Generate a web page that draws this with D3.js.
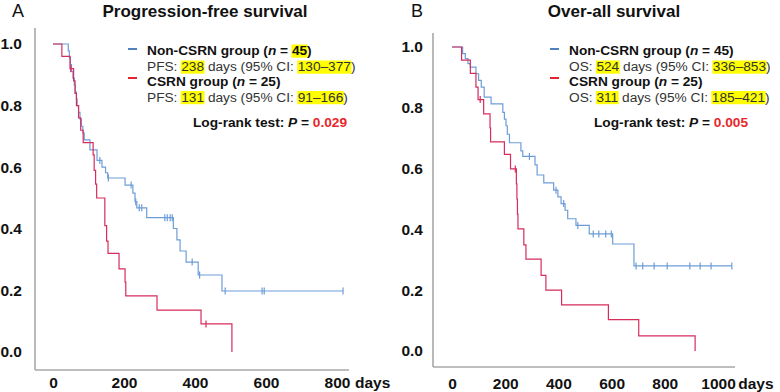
<!DOCTYPE html>
<html><head><meta charset="utf-8">
<script src="https://cdn.jsdelivr.net/npm/d3@7"></script>
<style>body{margin:0;background:#fff}svg{display:block}</style>
</head><body>
<svg id="c" width="780" height="392"></svg>
<script>
// ---------------- DATA ----------------
// Panel A: progression-free survival (days, Kaplan-Meier estimate after each event)
const pfsNonTimes = [43,46,49,52,56,60,63,66,68,72,76,80,84,88,104,124,138,148,154,203,225,231,236,264,339,349,358,375,409,476];
const pfsNonSurv  = [0.978,0.956,0.933,0.911,0.889,0.867,0.844,0.822,0.80,0.778,0.756,0.733,0.711,0.689,0.656,0.622,0.60,0.582,0.565,0.542,0.516,0.488,0.468,0.436,0.401,0.364,0.328,0.292,0.25,0.198];
const pfsNonCensor = [132,156,220,233,243,250,315,322,330,336,392,413,485,589,595,817];

const pfsCsrnTimes = [25,48,58,62,66,72,78,85,113,116,120,123,146,151,155,186,203,205,293,417,504];
const pfsCsrnSurv  = [0.96,0.92,0.88,0.84,0.80,0.76,0.72,0.68,0.64,0.59,0.545,0.50,0.41,0.36,0.32,0.27,0.227,0.182,0.136,0.091,0];
const pfsCsrnCensor = [50,431];

// Panel B: overall survival
const osNonTimes = [40,50,60,69,90,100,110,121,147,191,197,203,208,216,259,266,312,320,345,382,398,410,425,435,466,516,604,684];
const osNonSurv  = [0.978,0.962,0.945,0.934,0.912,0.89,0.868,0.835,0.813,0.785,0.763,0.741,0.713,0.685,0.658,0.64,0.612,0.579,0.553,0.529,0.507,0.485,0.463,0.435,0.413,0.385,0.352,0.28];
const osNonCensor = [291,391,420,473,531,552,578,599,692,717,760,809,894,933,974,1052];

const osCsrnTimes = [36,69,90,98,119,143,145,197,220,242,244,246,248,270,278,335,353,412,588,702,914];
const osCsrnSurv  = [0.957,0.913,0.868,0.827,0.78,0.734,0.688,0.647,0.599,0.55,0.50,0.45,0.402,0.349,0.302,0.249,0.20,0.152,0.103,0.05,0];
const osCsrnCensor = [106,238];

// Tick labels
const yTicks = [0,0.2,0.4,0.6,0.8,1.0];
const pfsXTicks = [0,200,400,600,800];
const osXTicks = [0,200,400,600,800,1000];

// Text
const panelLetters = ["A","B"];
const panelTitles = ["Progression-free survival","Over-all survival"];
const groupNames = ["Non-CSRN group","CSRN group"];
const groupN = ["45","25"];
const pfsMedians = [["238","130–377"],["131","91–166"]];
const osMedians  = [["524","336–853"],["311","185–421"]];
const pValues = ["0.029","0.005"];

// ---------------- DRAW ----------------
const FONT = "'Liberation Sans', Arial, Helvetica, sans-serif";
const svg = d3.select("#c");
const BLUE = "#6d9dd8", RED = "#d62d5d";
const BLUE_LEG = "#4f81bd", RED_LEG = "#e2262e";
const AXIS = "#a8a8a8";
const TICK_FS = 15.5;

function survAt(times, surv, t){
  const i = d3.bisectRight(times, t);
  return i === 0 ? 1 : surv[i-1];
}
function stepPts(times, surv, end){
  const pts = [[0,1]]; let s = 1;
  times.forEach((t,i)=>{ pts.push([t,s]); s = surv[i]; pts.push([t,s]); });
  if (end > times[times.length-1]) pts.push([end,s]);
  return pts;
}

function richLine(g, x, y, segs, size){
  let cx = x;
  segs.forEach(sg=>{
    const t = g.append("text").attr("x",cx).attr("y",y)
      .style("white-space","pre")
      .attr("font-family",FONT).attr("font-size",size)
      .attr("font-weight",sg.b?"bold":"normal")
      .attr("font-style",sg.i?"italic":"normal")
      .attr("fill",sg.c || (sg.b?"#111":"#333"))
      .text(sg.t);
    const w = t.node().getComputedTextLength();
    if (sg.h){
      g.insert("rect","text").attr("x",cx-0.5).attr("y",y-10.5).attr("width",w+1).attr("height",13.2).attr("fill","#ffff00");
    }
    cx += w;
  });
  return cx;
}

function drawPanel(p){
  const g = svg.append("g");
  const x = d3.scaleLinear().domain([0,1000]).range([p.x0, p.x0 + 1000*p.k]);
  const y = d3.scaleLinear().domain([0,1]).range([p.yBot, p.yTop]);

  // frame lines
  g.append("line").attr("x1",p.axisX).attr("x2",p.axisX).attr("y1",p.axisTop).attr("y2",p.axisY)
    .attr("stroke",AXIS).attr("stroke-width",1.6);
  g.append("line").attr("x1",p.axisX).attr("x2",p.axisRight).attr("y1",p.axisY).attr("y2",p.axisY)
    .attr("stroke",AXIS).attr("stroke-width",1.6);

  // y axis labels
  const ya = g.append("g").attr("transform",`translate(${p.axisX},0)`)
    .call(d3.axisLeft(y).tickValues(yTicks).tickFormat(d3.format(".1f")).tickSize(0).tickPadding(p.yPad));
  ya.select(".domain").remove();
  ya.selectAll("text").attr("font-family",FONT).attr("font-size",TICK_FS).attr("font-weight","bold").attr("fill","#111");

  // x axis labels
  const xa = g.append("g").attr("transform",`translate(0,${p.axisY})`)
    .call(d3.axisBottom(x).tickValues(p.xTicks).tickFormat(d3.format("d")).tickSize(0).tickPadding(p.xPad));
  xa.select(".domain").remove();
  xa.selectAll("text").attr("font-family",FONT).attr("font-size",TICK_FS).attr("font-weight","bold").attr("fill","#111");
  const lastT = p.xTicks[p.xTicks.length-1];
  const lastNode = xa.selectAll("text").nodes().pop();
  const lw = lastNode.getComputedTextLength();
  g.append("text").attr("x",x(lastT)+lw/2+p.daysGap).attr("y",p.axisY+p.xPad+11)
    .attr("font-family",FONT).attr("font-size",TICK_FS).attr("font-weight","bold").attr("fill","#111").text("days");

  // panel letter & title
  g.append("text").attr("x",p.letterX).attr("y",17).attr("font-family",FONT).attr("font-size",18).attr("fill","#111").text(p.letter);
  g.append("text").attr("x",p.titleX).attr("y",17).attr("text-anchor","middle").attr("font-family",FONT)
    .attr("font-size",17).attr("font-weight","bold").attr("fill","#111").text(p.title);

  // curves
  const line = d3.line().x(d=>x(d[0])).y(d=>y(d[1]));
  p.series.forEach(s=>{
    const end = Math.max(s.times[s.times.length-1], d3.max(s.censor));
    g.append("path").attr("d",line(stepPts(s.times,s.surv,end))).attr("fill","none")
      .attr("stroke",s.color).attr("stroke-width",1.2);
    g.selectAll(null).data(s.censor).enter().append("line")
      .attr("x1",d=>x(d)).attr("x2",d=>x(d))
      .attr("y1",d=>y(survAt(s.times,s.surv,d))-3.5).attr("y2",d=>y(survAt(s.times,s.surv,d))+3.5)
      .attr("stroke",s.color).attr("stroke-width",1.2);
  });

  // legend
  const L = g.append("g");
  const lx = p.legX, fs = 13.7;
  L.append("line").attr("x1",lx-19).attr("x2",lx-10).attr("y1",49).attr("y2",49).attr("stroke",BLUE_LEG).attr("stroke-width",2);
  L.append("line").attr("x1",lx-19).attr("x2",lx-10).attr("y1",78).attr("y2",78).attr("stroke",RED_LEG).attr("stroke-width",2);
  richLine(L, lx, 55, [{t:groupNames[0]+" (",b:1},{t:"n",b:1,i:1},{t:" = ",b:1},{t:groupN[0],b:1,h:p.hlN},{t:")",b:1}], fs);
  richLine(L, lx, 71, [{t:p.lab+": "},{t:p.med[0][0],h:1},{t:" days (95% CI: "},{t:p.med[0][1],h:1},{t:")"}], fs);
  richLine(L, lx, 85.5, [{t:groupNames[1]+" (",b:1},{t:"n",b:1,i:1},{t:" = "+groupN[1]+")",b:1}], fs);
  richLine(L, lx, 101.5, [{t:p.lab+": "},{t:p.med[1][0],h:1},{t:" days (95% CI: "},{t:p.med[1][1],h:1},{t:")"}], fs);
  richLine(L, p.lrX, 126.5, [{t:"Log-rank test: ",b:1},{t:"P",b:1,i:1},{t:" = ",b:1},{t:p.pval,b:1,c:"#e8262b"}], fs);
}

drawPanel({letter:panelLetters[0], letterX:12, title:panelTitles[0], titleX:205,
  x0:53, k:0.355, yTop:44, yBot:352, axisX:35, axisTop:28, axisY:370, axisRight:349,
  yPad:13, xPad:7, daysGap:5, xTicks:pfsXTicks,
  legX:147, lrX:193, lab:"PFS", med:pfsMedians, pval:pValues[0], hlN:1,
  series:[{times:pfsNonTimes,surv:pfsNonSurv,censor:pfsNonCensor,color:BLUE},
          {times:pfsCsrnTimes,surv:pfsCsrnSurv,censor:pfsCsrnCensor,color:RED}]});

drawPanel({letter:panelLetters[1], letterX:411, title:panelTitles[1], titleX:614,
  x0:452, k:0.266, yTop:47, yBot:351, axisX:433, axisTop:33, axisY:367, axisRight:735,
  yPad:10, xPad:11, daysGap:3, xTicks:osXTicks,
  legX:569, lrX:594, lab:"OS", med:osMedians, pval:pValues[1], hlN:0,
  series:[{times:osNonTimes,surv:osNonSurv,censor:osNonCensor,color:BLUE},
          {times:osCsrnTimes,surv:osCsrnSurv,censor:osCsrnCensor,color:RED}]});
</script>
</body></html>
